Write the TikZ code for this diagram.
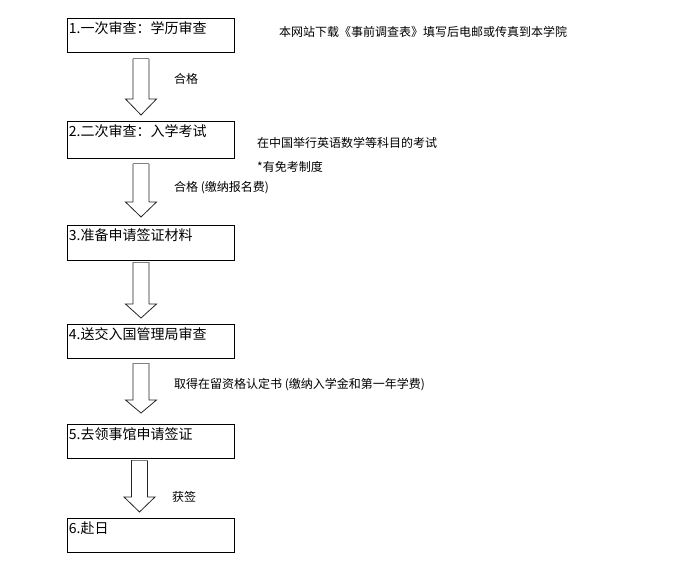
\documentclass[tikz,border=0pt]{standalone}
\usepackage{fontspec}
\setmainfont{Noto Sans CJK SC}
\tikzset{
  stepbox/.style={draw=black, line width=0.9pt, fill=white, anchor=north west, minimum width=167.3pt, inner sep=0pt},
  boxtext/.style={anchor=west, inner sep=0pt, font=\fontsize{14}{15}\selectfont},
  note/.style={anchor=west, inner sep=0pt, font=\fontsize{12}{13}\selectfont},
  arrline/.style={draw=black!85, line width=0.8pt, line join=miter}
}
\newcommand\blockarr[4]{%
  \draw[arrline] (#1-8,#2) -- (#1-8,#3) -- (#1-15.5,#3) -- (#1,#4) -- (#1+15.5,#3) -- (#1+8,#3) -- (#1+8,#2);
  \draw[draw=gray, line width=1pt] (#1-8,#2) -- (#1+8,#2);
}
\begin{document}
\begin{tikzpicture}[x=1pt,y=-1pt]
\fill[white] (0,0) rectangle (674,588);
\useasboundingbox (0,0) rectangle (674,588);
% boxes
\node[stepbox, minimum height=34pt] (b1) at (66.7,18) {};
\node[stepbox, minimum height=37pt] (b2) at (66.7,121) {};
\node[stepbox, minimum height=35pt] (b3) at (66.7,225) {};
\node[stepbox, minimum height=34pt] (b4) at (66.7,324) {};
\node[stepbox, minimum height=34pt] (b5) at (66.7,424) {};
\node[stepbox, minimum height=34pt] (b6) at (66.7,518) {};
% box texts
\node[boxtext] (t1) at ([xshift=2pt,yshift=-10.5pt]b1.north west) {1.一次审查：学历审查};
\node[boxtext] (t2) at ([xshift=2pt,yshift=-10.5pt]b2.north west) {2.二次审查：入学考试};
\node[boxtext] (t3) at ([xshift=2pt,yshift=-10.5pt]b3.north west) {3.准备申请签证材料};
\node[boxtext] (t4) at ([xshift=2pt,yshift=-10.5pt]b4.north west) {4.送交入国管理局审查};
\node[boxtext] (t5) at ([xshift=2pt,yshift=-10.5pt]b5.north west) {5.去领事馆申请签证};
\node[boxtext] (t6) at ([xshift=2pt,yshift=-10.5pt]b6.north west) {6.赴日};
% block arrows
\blockarr{141}{59}{99}{115}
\blockarr{141}{164}{202}{217}
\blockarr{141}{262}{304}{318}
\blockarr{141}{363}{400}{413}
\blockarr{139.5}{460}{497}{512}
% notes
\node[note] (n1) at (279,32) {本网站下载《事前调查表》填写后电邮或传真到本学院};
\node[note] (n2) at (174,79) {合格};
\node[note] (n3) at (257,143) {在中国举行英语数学等科目的考试};
\node[note] (n4) at (257,167) {*有免考制度};
\node[note] (n5) at (174,188) {合格 (缴纳报名费)};
\node[note] (n6) at (174,385) {取得在留资格认定书 (缴纳入学金和第一年学费)};
\node[note] (n7) at (172,497) {获签};
\end{tikzpicture}
\end{document}
